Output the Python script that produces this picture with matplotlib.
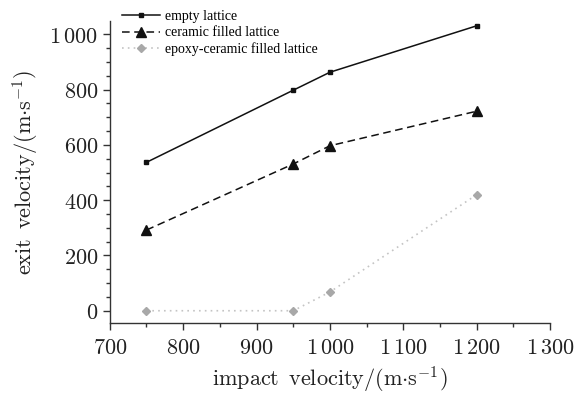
import matplotlib
matplotlib.use("Agg")
import matplotlib.pyplot as plt
from matplotlib.ticker import MultipleLocator, FuncFormatter

plt.rcParams['mathtext.fontset'] = 'cm'
plt.rcParams['font.family'] = 'serif'
plt.rcParams['font.serif'] = ['DejaVu Serif']

# data
impact = [750, 950, 1000, 1200]
empty_lattice = [537, 798, 863, 1031]
ceramic_filled = [292, 531, 597, 722]
epoxy_ceramic = [0, 0, 68, 420]

fig = plt.figure(figsize=(5.84, 3.98), dpi=100)
ax = fig.add_axes([0.188, 0.188, 0.754, 0.759])

ax.plot(impact, empty_lattice, color='#111111', lw=1.1, ls='-',
        marker='s', ms=3.5, label='empty lattice')
ax.plot(impact, ceramic_filled, color='#111111', lw=1.1, ls=(0, (5, 3)),
        marker='^', ms=6.5, label='ceramic filled lattice')
ax.plot(impact, epoxy_ceramic, color='#c4c4c4', lw=1.2, ls=(0, (1, 2.5)),
        marker='D', ms=4.5, mfc='#a8a8a8', mec='#a8a8a8',
        label='epoxy-ceramic filled lattice')

ax.set_xlim(700, 1300)
ax.set_ylim(-45, 1048)
ax.xaxis.set_major_locator(MultipleLocator(100))
ax.xaxis.set_minor_locator(MultipleLocator(50))
ax.yaxis.set_major_locator(MultipleLocator(200))
ax.yaxis.set_minor_locator(MultipleLocator(50))


def fmt(v, pos):
    v = int(round(v))
    if v >= 1000:
        return r'$%d\,%03d$' % (v // 1000, v % 1000)
    return r'$%d$' % v


ax.xaxis.set_major_formatter(FuncFormatter(fmt))
ax.yaxis.set_major_formatter(FuncFormatter(fmt))

for s in ['top', 'right']:
    ax.spines[s].set_visible(False)
for s in ['left', 'bottom']:
    ax.spines[s].set_color('#333333')
    ax.spines[s].set_linewidth(1.0)

ax.tick_params(which='major', direction='out', length=5, width=1,
               colors='#333333', labelsize=16, labelcolor='#222222')
ax.tick_params(which='minor', direction='out', length=3, width=1,
               colors='#333333')
ax.tick_params(axis='x', pad=5)

ax.set_xlabel(r'$\mathrm{impact\ \,velocity/(m{\cdot}s^{-1})}$',
              fontsize=16, color='#222222', labelpad=4)
ax.set_ylabel(r'$\mathrm{exit\ \,velocity/(m{\cdot}s^{-1})}$',
              fontsize=16, color='#222222', labelpad=6)

leg = ax.legend(loc='upper left', bbox_to_anchor=(0.195, 0.995),
                bbox_transform=fig.transFigure, frameon=False,
                prop={'family': 'Liberation Serif', 'size': 10},
                handlelength=2.7, handletextpad=0.35, labelspacing=0.22,
                borderaxespad=0.2)

fig.savefig('out.png', dpi=100)
